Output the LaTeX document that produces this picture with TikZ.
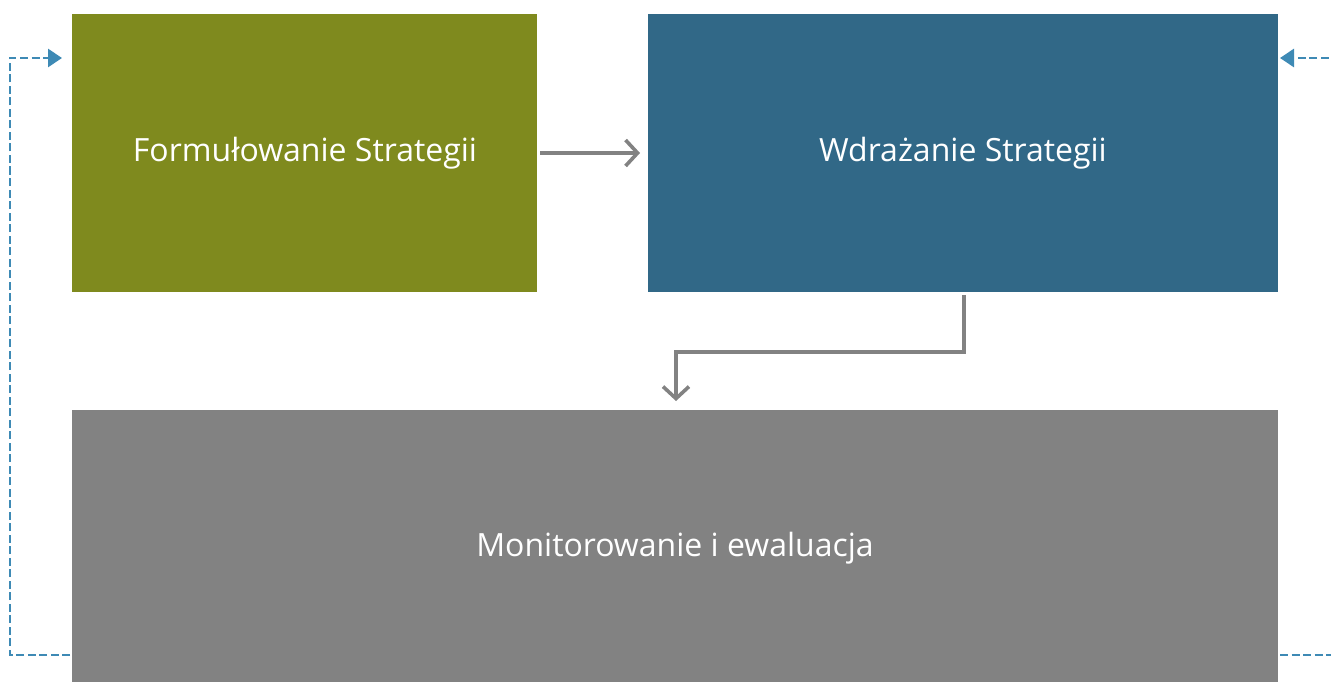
\documentclass[tikz,border=0pt]{standalone}
\usepackage{fontspec}
\setmainfont{Open Sans}
\usetikzlibrary{arrows.meta}
\definecolor{cgreen}{HTML}{7F8A1E}
\definecolor{cblue}{HTML}{316887}
\definecolor{cgray}{HTML}{828282}
\definecolor{cdash}{HTML}{3E8AB5}
\tikzset{
  box/.style={draw=none, inner sep=0pt, text=white, font=\fontsize{32}{38}\selectfont},
  flow/.style={draw=cgray, line width=3.6pt, -{Straight Barb[length=12pt,width=26pt,line width=3.6pt]}},
  back/.style={draw=cdash, line width=2.8pt, dash pattern=on 8pt off 3.5pt, -{Triangle[length=14pt,width=18pt]}}
}
\begin{document}
\begin{tikzpicture}[x=1pt,y=-1pt]
\useasboundingbox (0,0) rectangle (1331,682);
\fill[cgreen] (72,14) rectangle (537,292);
\fill[cblue] (648,14) rectangle (1278,292);
\fill[cgray] (72,410) rectangle (1278,690);
\node[box] (f) at (305,153) {Formułowanie Strategii};
\node[box] (w) at (963,153) {Wdrażanie Strategii};
\node[box] (m) at (675,548) {Monitorowanie i ewaluacja};
\coordinate (fR) at (540,153);
\coordinate (wL) at (640,153);
\coordinate (wB) at (964,295);
\coordinate (mT) at (676,401);
\coordinate (mL) at (70,655);
\coordinate (fL) at (62,58);
\coordinate (mR) at (1280,655);
\coordinate (wR) at (1280,58);
\draw[flow] (fR) -- (wL);
\draw[flow] (wB) -- (964,352) -- (676,352) -- (mT);
\draw[back] (mL) -- (10,655) -- (10,58) -- (fL);
\draw[back] (mR) -- (1345,655) -- (1345,58) -- (wR);
\end{tikzpicture}
\end{document}
